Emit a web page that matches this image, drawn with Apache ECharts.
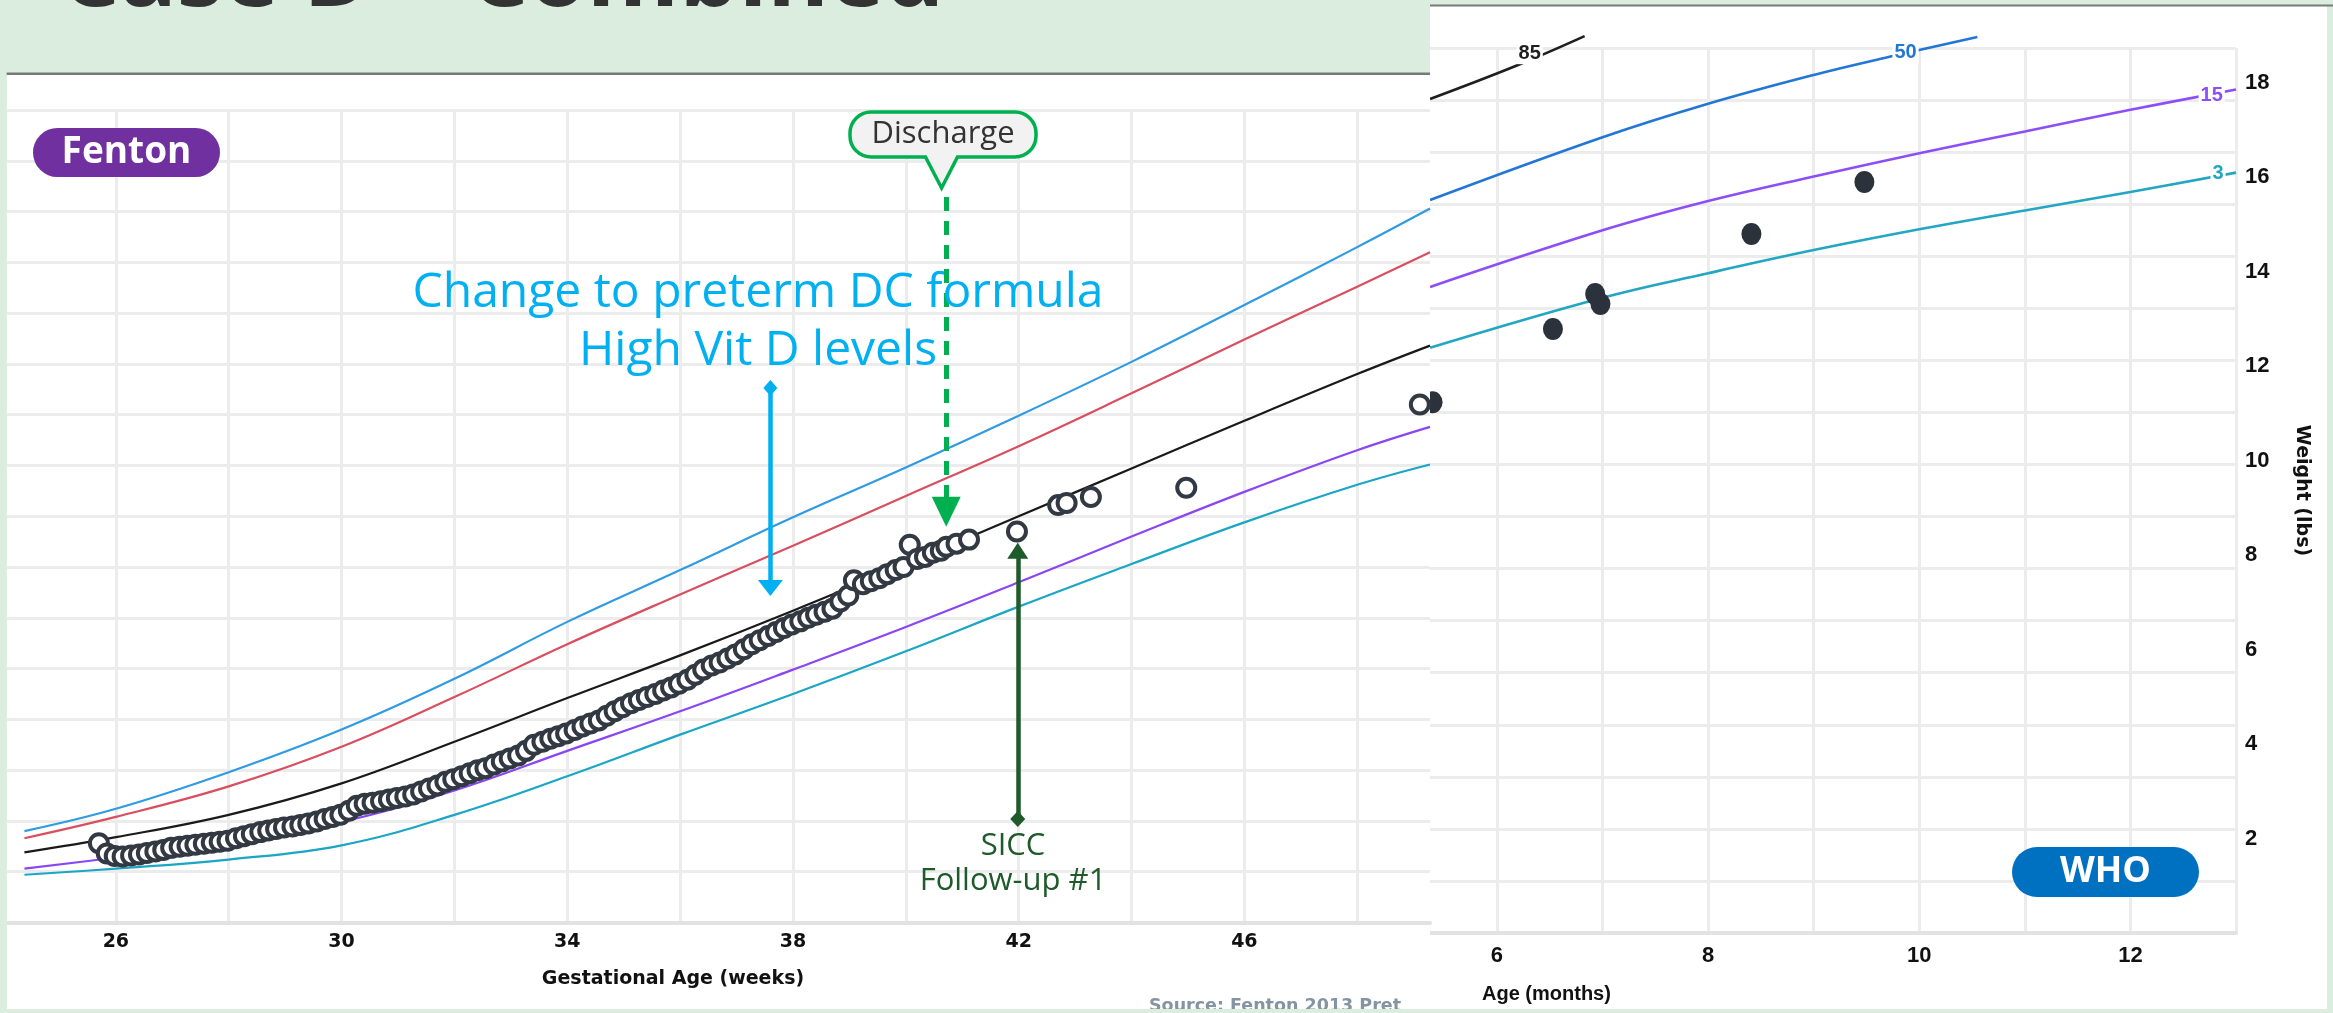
<!DOCTYPE html>
<html><head><meta charset="utf-8">
<script src="https://cdn.jsdelivr.net/npm/echarts@6/dist/echarts.min.js"></script>
<style>html,body{margin:0;padding:0;background:#dbeddf;}#c{width:2333px;height:1013px;}</style>
</head><body><div id="c"></div>
<script>
// ---------------- Fenton (left) reference curves, weight in kg ----------------
const fentonWeeks = [24.38, 26, 28, 30, 32, 34, 36, 38, 40, 42, 44, 46, 48, 49.29];
const fentonP97 = [0.90, 1.12, 1.48, 1.90, 2.40, 2.96, 3.47, 3.99, 4.48, 4.99, 5.52, 6.08, 6.65, 7.03];
const fentonP90 = [0.83, 1.04, 1.34, 1.73, 2.22, 2.74, 3.23, 3.71, 4.20, 4.69, 5.21, 5.74, 6.26, 6.60];
const fentonP50 = [0.69, 0.84, 1.06, 1.37, 1.78, 2.21, 2.63, 3.07, 3.53, 4.00, 4.47, 4.94, 5.40, 5.68];
const fentonP10 = [0.53, 0.64, 0.79, 0.99, 1.30, 1.69, 2.08, 2.49, 2.91, 3.35, 3.80, 4.24, 4.65, 4.88];
const fentonP3  = [0.47, 0.53, 0.62, 0.76, 1.06, 1.44, 1.85, 2.25, 2.67, 3.11, 3.53, 3.94, 4.31, 4.51];

// ---------------- Patient measurements on Fenton chart ----------------
const patientWeeks = [25.70,25.84,25.98,26.12,26.27,26.41,26.55,26.70,26.84,26.98,27.13,27.27,27.41,27.56,27.70,27.84,27.98,
  28.13,28.27,28.41,28.56,28.70,28.84,28.98,29.13,29.27,29.41,29.56,29.70,29.84,29.98,30.13,30.27,30.41,30.55,30.70,30.84,30.98,
  31.13,31.27,31.41,31.55,31.70,31.84,31.98,32.13,32.27,32.41,32.55,32.70,32.84,32.98,33.13,33.27,33.41,33.56,33.70,33.84,33.98,
  34.13,34.27,34.41,34.56,34.70,34.84,34.98,35.13,35.27,35.41,35.56,35.70,35.84,35.98,36.13,36.27,36.41,36.56,36.70,36.84,36.98,
  37.13,37.27,37.41,37.56,37.70,37.84,37.98,38.13,38.27,38.41,38.56,38.70,38.84,38.98,39.08,39.24,39.38,39.53,39.67,39.82,39.96,
  40.07,40.20,40.34,40.48,40.62,40.72,40.90,41.12,41.97,42.70,42.85,43.28,44.97,49.11];
const patientKg = [0.78,0.68,0.655,0.65,0.66,0.67,0.685,0.70,0.715,0.735,0.745,0.755,0.765,0.775,0.785,0.795,0.805,
  0.83,0.85,0.87,0.89,0.905,0.92,0.935,0.945,0.96,0.975,0.995,1.02,1.04,1.06,1.10,1.15,1.17,1.18,1.195,1.21,1.225,
  1.24,1.26,1.29,1.32,1.35,1.385,1.41,1.44,1.47,1.50,1.52,1.555,1.585,1.615,1.645,1.69,1.75,1.78,1.81,1.835,1.86,
  1.895,1.93,1.96,1.99,2.035,2.08,2.12,2.16,2.19,2.22,2.25,2.285,2.315,2.35,2.39,2.44,2.49,2.53,2.56,2.60,2.64,
  2.69,2.74,2.78,2.82,2.86,2.90,2.935,2.965,3.00,3.03,3.06,3.09,3.16,3.22,3.37,3.33,3.36,3.39,3.43,3.47,3.50,
  3.72,3.58,3.60,3.64,3.66,3.70,3.73,3.77,3.85,4.11,4.13,4.19,4.28,5.10];

// ---------------- WHO (right) reference curves, weight in lbs ----------------
const whoMonths85 = [5.366, 6.2, 6.83];
const who85 = [17.66, 18.38, 18.99];
const whoMonths50 = [5.366, 7, 8, 9, 9.75, 10.55];
const who50 = [15.52, 16.85, 17.56, 18.17, 18.57, 18.97];
const whoMonths15 = [5.366, 7, 8, 9, 10, 11, 12, 13];
const who15 = [13.68, 14.88, 15.50, 16.02, 16.51, 16.97, 17.43, 17.86];
const whoMonths3 = [5.366, 7, 8, 9, 10, 11, 12, 13];
const who3 = [12.39, 13.45, 13.97, 14.46, 14.90, 15.30, 15.69, 16.10];
const whoLabelText = ['85', '50', '15', '3'];
const whoLabelMonth = [6.31, 9.87, 12.77, 12.83];
const whoLabelLb = [18.63, 18.65, 17.74, 16.09];

// ---------------- Patient measurements on WHO chart ----------------
const whoPatientMonths = [5.39, 6.53, 6.93, 6.98, 8.41, 9.48];
const whoPatientLb = [11.24, 12.79, 13.53, 13.32, 14.80, 15.90];

// ---------------- Annotation arrows (Fenton data coords) ----------------
const vitDArrowWeek = 37.60, vitDArrowTop = 5.263, vitDArrowBottom = 3.294;
const dischargeWeek = 40.716, dischargeTop = 7.144, dischargeBottom = 4.045;
const siccWeek = 41.984, siccBottom = 1.019, siccTop = 3.66;

const KG_TO_LB = 2.20462;
const zip = (a, b) => a.map((v, i) => [v, b[i]]);

const GRID_COLOR = '#ececec';
const fentonFont = 'DejaVu Sans';
const whoFont = 'Liberation Sans';

function fentonLine(name, vals, color) {
  return {
    name, type: 'line', xAxisIndex: 0, yAxisIndex: 0, z: 4,
    data: zip(fentonWeeks, vals), smooth: 0.4, showSymbol: false, symbol: 'none',
    lineStyle: {color, width: 2.2}, silent: true
  };
}
function whoLine(name, xs, ys, color, idx) {
  return {
    name, type: 'line', xAxisIndex: 1, yAxisIndex: 2, z: 1, clip: false,
    data: zip(xs, ys), smooth: 0.4, showSymbol: false, symbol: 'none',
    lineStyle: {color, width: 2.6}, silent: true,
    markPoint: {
      silent: true, animation: false, symbol: 'rect', symbolSize: [1, 1],
      itemStyle: {color: 'rgba(0,0,0,0)'},
      label: {show: true, position: 'inside', formatter: whoLabelText[idx], color,
        fontFamily: whoFont, fontWeight: 'bold', fontSize: 20, backgroundColor: '#ffffff', padding: [1, 2]},
      data: [{coord: [whoLabelMonth[idx], whoLabelLb[idx]]}]
    }
  };
}

const chart = echarts.init(document.getElementById('c'), null, {renderer: 'canvas', width: 2333, height: 1013});

const option = {
  animation: false,
  backgroundColor: '#dbeddf',
  grid: [
    {left: -15.3, top: 110, width: 1445.3, height: 812.5},
    {left: 1391.4, top: 48, width: 844.6, height: 885}
  ],
  xAxis: [
    {type: 'value', gridIndex: 0, min: 24, max: 49.29, interval: 2, z: 4,
      axisLine: {show: true, onZero: false, lineStyle: {color: '#e2e2e2', width: 4}},
      axisTick: {show: false},
      axisLabel: {formatter: v => (Number.isInteger(v) && v >= 26 && (v - 26) % 4 === 0) ? String(v) : '',
        showMaxLabel: false, fontFamily: fentonFont, fontWeight: 'bold', fontSize: 19, color: '#111111', margin: 10},
      splitLine: {show: true, showMaxLine: false, lineStyle: {color: GRID_COLOR, width: 3}}},
    {type: 'value', gridIndex: 1, min: 5, max: 13, interval: 1, z: 0,
      axisLine: {show: true, onZero: false, lineStyle: {color: '#e2e2e2', width: 4}},
      axisTick: {show: false},
      axisLabel: {formatter: v => (Number.isInteger(v) && v % 2 === 0) ? String(v) : '',
        fontFamily: whoFont, fontWeight: 'bold', fontSize: 22, color: '#111111', margin: 12},
      splitLine: {show: true, lineStyle: {color: GRID_COLOR, width: 3}}}
  ],
  yAxis: [
    {type: 'value', gridIndex: 0, min: 0, max: 8, interval: 0.5, z: 4,
      axisLine: {show: false}, axisTick: {show: false}, axisLabel: {show: false},
      splitLine: {show: true, lineStyle: {color: GRID_COLOR, width: 3}}},
    {type: 'value', gridIndex: 1, position: 'left', min: 0, max: 8.5, interval: 0.5, z: 0,
      axisLine: {show: false}, axisTick: {show: false}, axisLabel: {show: false},
      splitLine: {show: true, lineStyle: {color: GRID_COLOR, width: 3}}},
    {type: 'value', gridIndex: 1, position: 'right', min: 0, max: 8.5 * KG_TO_LB, interval: 2, z: 0,
      axisLine: {show: false}, axisTick: {show: false}, splitLine: {show: false},
      axisLabel: {formatter: v => (Number.isInteger(v) && v > 0 && v % 2 === 0) ? String(v) : '',
        showMaxLabel: false, fontFamily: whoFont, fontWeight: 'bold', fontSize: 22, color: '#111111', margin: 9},
      name: 'Weight (lbs)', nameLocation: 'middle', nameRotate: -90, nameGap: 56,
      nameTextStyle: {fontFamily: fentonFont, fontWeight: 'bold', fontSize: 19, color: '#111111'}}
  ],
  series: [
    fentonLine('Fenton 97th', fentonP97, '#2f9be3'),
    fentonLine('Fenton 90th', fentonP90, '#d94f5f'),
    fentonLine('Fenton 50th', fentonP50, '#1a1a1a'),
    fentonLine('Fenton 10th', fentonP10, '#8a46f2'),
    fentonLine('Fenton 3rd', fentonP3, '#1aa6c4'),
    {name: 'Patient (Fenton)', type: 'scatter', xAxisIndex: 0, yAxisIndex: 0, z: 4.5,
      data: zip(patientWeeks, patientKg), symbol: 'circle', symbolSize: 18, silent: true,
      itemStyle: {color: '#ffffff', borderColor: '#323942', borderWidth: 4, opacity: 1}},
    {name: 'Annotations', type: 'line', xAxisIndex: 0, yAxisIndex: 0, z: 5, data: [], silent: true,
      markLine: {
        silent: true, animation: false, symbol: ['none', 'none'], label: {show: false},
        emphasis: {disabled: true},
        data: [
          [{coord: [vitDArrowWeek, vitDArrowTop], symbol: 'diamond', symbolSize: [14, 16],
            lineStyle: {color: '#00b0f0', width: 4.5, type: 'solid'}},
           {coord: [vitDArrowWeek, vitDArrowBottom], symbol: 'triangle', symbolSize: [25, 16]}],
          [{coord: [dischargeWeek, dischargeTop], symbol: 'none',
            lineStyle: {color: '#00b050', width: 5, type: [14, 10]}},
           {coord: [dischargeWeek, dischargeBottom], symbol: 'triangle', symbolSize: [29, 30]}],
          [{coord: [siccWeek, siccBottom], symbol: 'diamond', symbolSize: [15, 16],
            lineStyle: {color: '#1e5a2a', width: 4.5, type: 'solid'}},
           {coord: [siccWeek, siccTop], symbol: 'triangle', symbolSize: [21, 16]}]
        ]
      }},
    whoLine('WHO 85th', whoMonths85, who85, '#1f1f1f', 0),
    whoLine('WHO 50th', whoMonths50, who50, '#2276d6', 1),
    whoLine('WHO 15th', whoMonths15, who15, '#8c4ff7', 2),
    whoLine('WHO 3rd', whoMonths3, who3, '#22a6c2', 3),
    {name: 'Patient (WHO)', type: 'scatter', xAxisIndex: 1, yAxisIndex: 2, z: 1, clip: false,
      data: zip(whoPatientMonths, whoPatientLb), symbol: 'circle', symbolSize: [20, 22], silent: true,
      itemStyle: {color: '#2b323c', opacity: 1}}
  ],
  graphic: {elements: [
    // WHO panel
    {type: 'rect', z: -1, silent: true, shape: {x: 1430, y: 6, width: 897, height: 1003}, style: {fill: '#ffffff'}},
    {type: 'rect', z: -1, silent: true, shape: {x: 1430, y: 4.5, width: 903, height: 2}, style: {fill: '#787c78'}},
    // Left panel (covers the WHO chart)
    {type: 'rect', z: 3, silent: true, shape: {x: 0, y: 0, width: 1430, height: 73}, style: {fill: '#dbeddf'}},
    {type: 'rect', z: 3, silent: true, shape: {x: 3, y: 72.5, width: 1427, height: 2.5}, style: {fill: '#767a76'}},
    {type: 'rect', z: 3, silent: true, shape: {x: 6.7, y: 75, width: 1423.3, height: 934}, style: {fill: '#ffffff'}},
    // Fenton pill
    {type: 'rect', z: 6, silent: true, shape: {x: 33, y: 128, width: 187, height: 49, r: 24.5}, style: {fill: '#7030a0'}},
    {type: 'text', z: 6, silent: true, style: {text: 'Fenton', x: 126.5, y: 152.5, textAlign: 'center', textVerticalAlign: 'middle',
      font: 'bold 37px "Open Sans"', fill: '#ffffff'}},
    // Vit D annotation
    {type: 'text', z: 6, silent: true, style: {text: 'Change to preterm DC formula', x: 758, y: 293, textAlign: 'center', textVerticalAlign: 'middle',
      font: '48px "Open Sans"', fill: '#00b0f0'}},
    {type: 'text', z: 6, silent: true, style: {text: 'High Vit D levels', x: 758, y: 351, textAlign: 'center', textVerticalAlign: 'middle',
      font: '48px "Open Sans"', fill: '#00b0f0'}},
    // Discharge callout
    {type: 'rect', z: 6, silent: true, shape: {x: 850, y: 112, width: 186, height: 45, r: 21}, style: {fill: '#f2f2f2', stroke: '#00b050', lineWidth: 3.5}},
    {type: 'polygon', z: 6, silent: true, shape: {points: [[925, 153], [958, 153], [941.6, 186]]}, style: {fill: '#f2f2f2'}},
    {type: 'polyline', z: 6, silent: true, shape: {points: [[925, 156], [941.6, 188], [958, 156]]}, style: {stroke: '#00b050', lineWidth: 3.5, fill: null}},
    {type: 'text', z: 6, silent: true, style: {text: 'Discharge', x: 943, y: 134, textAlign: 'center', textVerticalAlign: 'middle',
      font: '31px "Open Sans"', fill: '#333333'}},
    // SICC text
    {type: 'text', z: 6, silent: true, style: {text: 'SICC', x: 1013, y: 846, textAlign: 'center', textVerticalAlign: 'middle',
      font: '31px "Open Sans"', fill: '#1e5a2a'}},
    {type: 'text', z: 6, silent: true, style: {text: 'Follow-up #1', x: 1013, y: 881, textAlign: 'center', textVerticalAlign: 'middle',
      font: '31px "Open Sans"', fill: '#1e5a2a'}},
    // Axis titles
    {type: 'text', z: 6, silent: true, style: {text: 'Gestational Age (weeks)', x: 673, y: 979, textAlign: 'center', textVerticalAlign: 'middle',
      font: 'bold 19px "DejaVu Sans"', fill: '#111111'}},
    {type: 'text', z: 6, silent: true, style: {text: 'Source: Fenton 2013 Pret', x: 1149, y: 1006, textAlign: 'left', textVerticalAlign: 'middle',
      font: 'bold 17.5px "DejaVu Sans"', fill: '#8494a2'}},
    {type: 'text', z: 2, silent: true, style: {text: 'Age (months)', x: 1482, y: 994, textAlign: 'left', textVerticalAlign: 'middle',
      font: 'bold 20px "Liberation Sans"', fill: '#111111'}},
    // WHO pill
    {type: 'rect', z: 2, silent: true, shape: {x: 2012, y: 847, width: 187, height: 50, r: 25}, style: {fill: '#0070c0'}},
    {type: 'text', z: 2, silent: true, style: {text: 'WHO', x: 2105.5, y: 872, textAlign: 'center', textVerticalAlign: 'middle',
      font: 'bold 36px "Open Sans"', fill: '#ffffff'}},
    // slide frame strips
    {type: 'rect', z: 7, silent: true, shape: {x: 0, y: 0, width: 6.7, height: 1013}, style: {fill: '#dbeddf'}},
    {type: 'rect', z: 7, silent: true, shape: {x: 0, y: 1009, width: 2333, height: 4}, style: {fill: '#dbeddf'}},
    {type: 'rect', z: 7, silent: true, shape: {x: 2327, y: 7, width: 6, height: 1006}, style: {fill: '#dbeddf'}},
    // Title (cut by the top edge)
    {type: 'text', z: 7, silent: true, style: {text: 'Case D \u2013 Combined', x: 60, y: -21, textAlign: 'left', textVerticalAlign: 'middle',
      font: 'bold 94px "Open Sans"', fill: '#333333'}}
  ]}
};
chart.setOption(option);
</script>
</body></html>
